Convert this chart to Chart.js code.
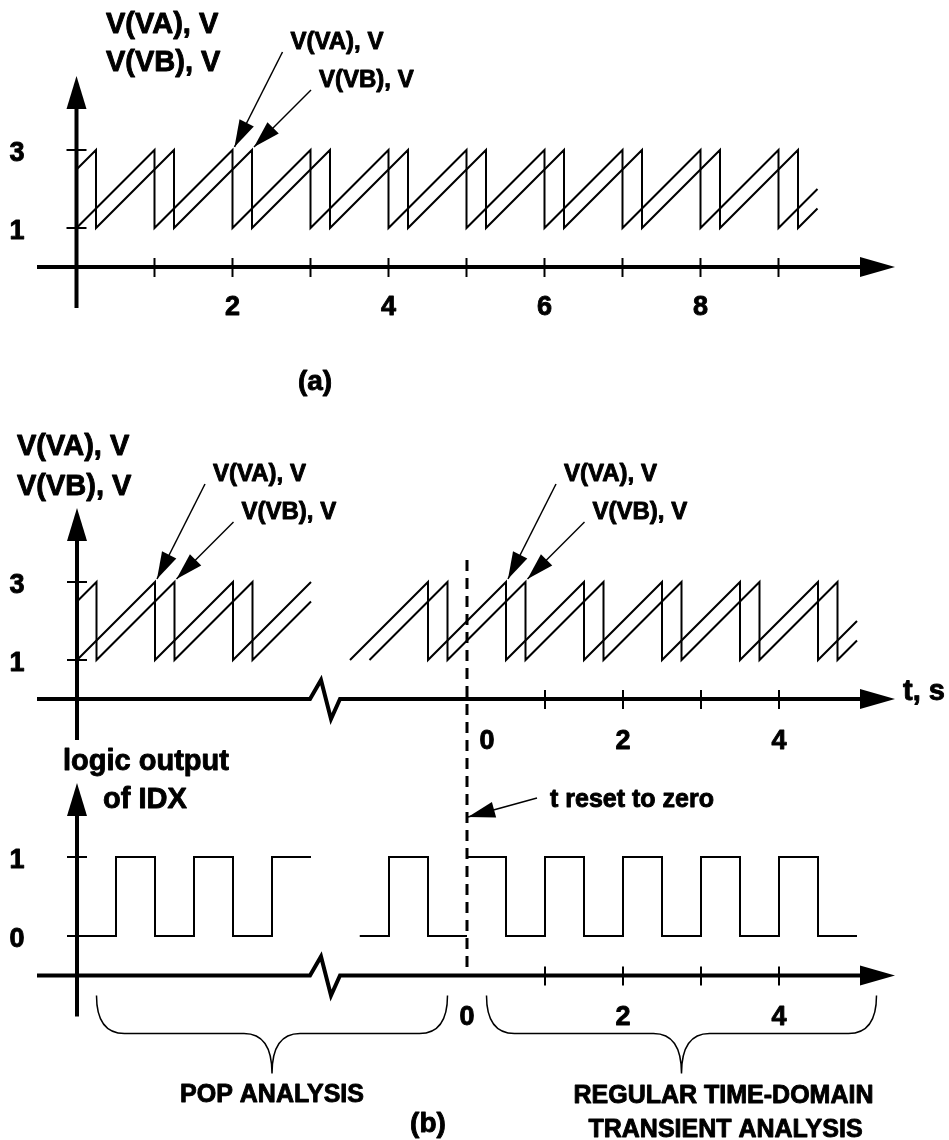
<!DOCTYPE html>
<html>
<head>
<meta charset="utf-8">
<script src="https://cdn.jsdelivr.net/npm/chart.js@4.4.1/dist/chart.umd.min.js"></script>
<style>
  html, body { margin: 0; padding: 0; background: #fff; }
  #wrap { position: relative; width: 949px; height: 1140px; }
</style>
</head>
<body>
<div id="wrap"><canvas id="myChart" width="949" height="1140"></canvas></div>
<script>
// (a) free running sawtooth, time in s, voltage in V
const aTimeVA = [0, 1, 1, 2, 2, 3, 3, 4, 4, 5, 5, 6, 6, 7, 7, 8, 8, 9, 9, 9.5];
const aVoltVA = [1, 3, 1, 3, 1, 3, 1, 3, 1, 3, 1, 3, 1, 3, 1, 3, 1, 3, 1, 2];
const aTimeVB = [0, 0.25, 0.25, 1.25, 1.25, 2.25, 2.25, 3.25, 3.25, 4.25, 4.25, 5.25, 5.25, 6.25, 6.25, 7.25, 7.25, 8.25, 8.25, 9.25, 9.25, 9.5];
const aVoltVB = [2.5, 3, 1, 3, 1, 3, 1, 3, 1, 3, 1, 3, 1, 3, 1, 3, 1, 3, 1, 3, 1, 1.5];

// (b) POP analysis part (left of the break)
const popTimeVA = [0, 1, 1, 2, 2, 3];
const popVoltVA = [1, 3, 1, 3, 1, 3];
const popTimeVB = [0, 0.25, 0.25, 1.25, 1.25, 2.25, 2.25, 3];
const popVoltVB = [2.5, 3, 1, 3, 1, 3, 1, 2.5];
const popTimeIDX = [0, 0.5, 0.5, 1, 1, 1.5, 1.5, 2, 2, 2.5, 2.5, 3];
const popIDX = [0, 0, 1, 1, 0, 0, 1, 1, 0, 0, 1, 1];

// (b) transient part (t reset to zero at the dashed line)
const trTimeVA = [-1.5, -0.5, -0.5, 0.5, 0.5, 1.5, 1.5, 2.5, 2.5, 3.5, 3.5, 4.5, 4.5, 5];
const trVoltVA = [1, 3, 1, 3, 1, 3, 1, 3, 1, 3, 1, 3, 1, 2];
const trTimeVB = [-1.25, -0.25, -0.25, 0.75, 0.75, 1.75, 1.75, 2.75, 2.75, 3.75, 3.75, 4.75, 4.75, 5];
const trVoltVB = [1, 3, 1, 3, 1, 3, 1, 3, 1, 3, 1, 3, 1, 1.5];
const trTimeIDX = [-1.375, -1, -1, -0.5, -0.5, 0, 0, 0, 0.5, 0.5, 1, 1, 1.5, 1.5, 2, 2, 2.5, 2.5, 3, 3, 3.5, 3.5, 4, 4, 4.5, 4.5, 5];
const trIDX = [0, 0, 1, 1, 0, 0, null, 1, 1, 0, 0, 1, 1, 0, 0, 1, 1, 0, 0, 1, 1, 0, 0, 1, 1, 0, 0];

// ticks
const aXTicks = [1, 2, 3, 4, 5, 6, 7, 8, 9];
const aXLabels = [2, 4, 6, 8];
const vYTicks = [1, 3];
const bXTicks = [1, 2, 3, 4];
const bXLabels = [0, 2, 4];
const idxYTicks = [0, 1];

const W = 949, H = 1140;
const FONT = '"Liberation Sans", Arial, sans-serif';

// min/max so that value 0 lands on a given pixel
function span(origin, ppu, size, flip) {
    if (flip) return { min: (origin - size) / ppu, max: origin / ppu };
    return { min: -origin / ppu, max: (size - origin) / ppu };
}

function series(t, v, xID, yID) {
    return {
        data: t.map((x, i) => ({ x: x, y: v[i] })),
        xAxisID: xID,
        yAxisID: yID,
        borderColor: '#000',
        borderWidth: 2,
        pointRadius: 0,
        fill: false,
        spanGaps: false
    };
}

function axisOpts(axis, s) {
    return Object.assign({ type: 'linear', axis: axis, display: false }, s);
}

const diagram = {
    id: 'diagram',
    afterDatasetsDraw(chart) {
        const ctx = chart.ctx;
        const s = chart.scales;
        ctx.save();
        ctx.strokeStyle = '#000';
        ctx.fillStyle = '#000';
        ctx.lineCap = 'butt';
        ctx.lineJoin = 'miter';

        function line(pts, w) {
            ctx.lineWidth = w;
            ctx.beginPath();
            ctx.moveTo(pts[0][0], pts[0][1]);
            for (let i = 1; i < pts.length; i++) ctx.lineTo(pts[i][0], pts[i][1]);
            ctx.stroke();
        }
        function head(tx, ty, fx, fy, len, half) {
            const a = Math.atan2(ty - fy, tx - fx);
            const bx = tx - len * Math.cos(a), by = ty - len * Math.sin(a);
            ctx.beginPath();
            ctx.moveTo(tx, ty);
            ctx.lineTo(bx + half * Math.sin(a), by - half * Math.cos(a));
            ctx.lineTo(bx - half * Math.sin(a), by + half * Math.cos(a));
            ctx.closePath();
            ctx.fill();
        }
        // heavy bold text like the original artwork
        function txt(str, x, y, size, align) {
            ctx.font = 'bold ' + size + 'px ' + FONT;
            ctx.textAlign = align || 'left';
            ctx.textBaseline = 'alphabetic';
            ctx.lineWidth = 0.9;
            ctx.lineJoin = 'round';
            ctx.fillText(str, x, y);
            ctx.strokeText(str, x, y);
            ctx.lineJoin = 'miter';
        }
        function pointer(label, tx, ty, dx, dy) {
            const fx = tx + dx, fy = ty + dy;
            line([[fx, fy], [tx, ty]], 1.5);
            head(tx, ty, fx, fy, 27, 8);
            if (label) txt(label, fx + 8, fy - 3, 24);
        }

        // one panel: y axis with arrow, x axis with arrow (optionally broken)
        function panel(xs, ys, axisVal, yTicks, topVal, brk) {
            const x0 = xs.getPixelForValue(0);
            const ay = ys.getPixelForValue(axisVal);
            const top = ys.getPixelForValue(topVal) - 74;
            line([[x0, top + 30], [x0, ay + 41]], 4);
            head(x0, top, x0, top + 40, 33, 10);
            if (brk) {
                line([[37, ay], [310, ay], [321, ay - 19], [331, ay + 20], [340, ay], [862, ay]], 4);
            } else {
                line([[37, ay], [862, ay]], 4);
            }
            head(895, ay, 850, ay, 35, 10);
            yTicks.forEach(v => {
                const py = ys.getPixelForValue(v);
                line([[x0 - 10, py], [x0 + 10, py]], 2);
                txt(String(v), 17, py + 11, 27, 'center');
            });
            return ay;
        }

        // (a)
        const ayA = panel(s.xA, s.yA, 0, vYTicks, 3, false);
        aXTicks.forEach(v => {
            const px = s.xA.getPixelForValue(v);
            line([[px, ayA - 9], [px, ayA + 10]], 2);
        });
        aXLabels.forEach(v => txt(String(v), s.xA.getPixelForValue(v), ayA + 48, 27, 'center'));
        txt('V(VA), V', 106, 33, 29);
        txt('V(VB), V', 106, 71, 29);
        pointer('V(VA), V', s.xA.getPixelForValue(2) + 2, s.yA.getPixelForValue(3) - 3, 48, -95);
        pointer('V(VB), V', s.xA.getPixelForValue(2.25) + 2, s.yA.getPixelForValue(3) - 3, 57, -57);
        txt('(a)', 315, 390, 28, 'center');

        // (b) upper: VA / VB
        const ayB = panel(s.xPop, s.yB, 0, vYTicks, 3, true);
        bXTicks.forEach(v => {
            const px = s.xTr.getPixelForValue(v);
            line([[px, ayB - 9], [px, ayB + 10]], 2);
        });
        bXLabels.forEach(v => txt(String(v), s.xTr.getPixelForValue(v) + (v === 0 ? 20 : 0), ayB + 50, 27, 'center'));
        txt('V(VA), V', 17, 455, 29);
        txt('V(VB), V', 17, 495, 29);
        txt('t, s', 903, ayB + 1, 29);
        const y3 = s.yB.getPixelForValue(3) - 3;
        pointer('V(VA), V', s.xPop.getPixelForValue(1) + 2, y3, 48, -95);
        pointer('V(VB), V', s.xPop.getPixelForValue(1.25) + 2, y3, 57, -57);
        pointer('V(VA), V', s.xTr.getPixelForValue(0.5) + 2, y3, 48, -95);
        pointer('V(VB), V', s.xTr.getPixelForValue(0.75) + 2, y3, 57, -57);

        // (b) lower: logic output
        const ayL = panel(s.xPop, s.yL, -0.5, idxYTicks, 1, true);
        bXTicks.forEach(v => {
            const px = s.xTr.getPixelForValue(v);
            line([[px, ayL - 9], [px, ayL + 10]], 2);
        });
        bXLabels.forEach(v => txt(String(v), s.xTr.getPixelForValue(v), ayL + 49, 27, 'center'));
        txt('logic output', 146, 770, 29, 'center');
        txt('of IDX', 145, 808, 29, 'center');

        // reset marker
        const xr = s.xTr.getPixelForValue(0);
        ctx.setLineDash([11, 7]);
        line([[xr, 560], [xr, ayL]], 3);
        ctx.setLineDash([]);
        line([[537, 798], [xr + 1, 817]], 1.5);
        head(xr + 1, 817, 537, 798, 27, 8);
        txt('t reset to zero', 550, 807, 25);

        // braces
        function brace(x0, x1) {
            const yTop = ayL + 20, yMid = ayL + 58, yTip = ayL + 98, r = 28;
            const xc = (x0 + x1) / 2;
            ctx.lineWidth = 1.5;
            ctx.beginPath();
            ctx.moveTo(x0, yTop);
            ctx.quadraticCurveTo(x0, yMid, x0 + r, yMid);
            ctx.lineTo(xc - r, yMid);
            ctx.quadraticCurveTo(xc, yMid, xc, yTip);
            ctx.quadraticCurveTo(xc, yMid, xc + r, yMid);
            ctx.lineTo(x1 - r, yMid);
            ctx.quadraticCurveTo(x1, yMid, x1, yTop);
            ctx.stroke();
            return xc;
        }
        const c1 = brace(s.xPop.getPixelForValue(0.25), s.xTr.getPixelForValue(-0.25));
        const c2 = brace(s.xTr.getPixelForValue(0.25), s.xTr.getPixelForValue(5.25));
        txt('POP ANALYSIS', c1, 1102, 25, 'center');
        txt('REGULAR TIME-DOMAIN', c2 + 42, 1103, 25, 'center');
        txt('TRANSIENT ANALYSIS', c2 + 44, 1137, 25, 'center');
        txt('(b)', 428, 1132, 28, 'center');

        ctx.restore();
    }
};

const canvas = document.getElementById('myChart');
const ctx = canvas.getContext('2d');

new Chart(ctx, {
    type: 'line',
    data: {
        datasets: [
            series(aTimeVA, aVoltVA, 'xA', 'yA'),
            series(aTimeVB, aVoltVB, 'xA', 'yA'),
            series(popTimeVA, popVoltVA, 'xPop', 'yB'),
            series(popTimeVB, popVoltVB, 'xPop', 'yB'),
            series(trTimeVA, trVoltVA, 'xTr', 'yB'),
            series(trTimeVB, trVoltVB, 'xTr', 'yB'),
            series(popTimeIDX, popIDX, 'xPop', 'yL'),
            series(trTimeIDX, trIDX, 'xTr', 'yL')
        ]
    },
    options: {
        responsive: false,
        animation: false,
        events: [],
        layout: { padding: 0 },
        plugins: {
            legend: { display: false },
            tooltip: { enabled: false }
        },
        scales: {
            xA: axisOpts('x', span(76.5, 78, W, false)),
            xPop: axisOpts('x', span(77, 78, W, false)),
            xTr: axisOpts('x', span(467, 78, W, false)),
            yA: axisOpts('y', span(267, 39, H, true)),
            yB: axisOpts('y', span(699, 39, H, true)),
            yL: axisOpts('y', span(936, 79, H, true))
        }
    },
    plugins: [diagram]
});
</script>
</body>
</html>
